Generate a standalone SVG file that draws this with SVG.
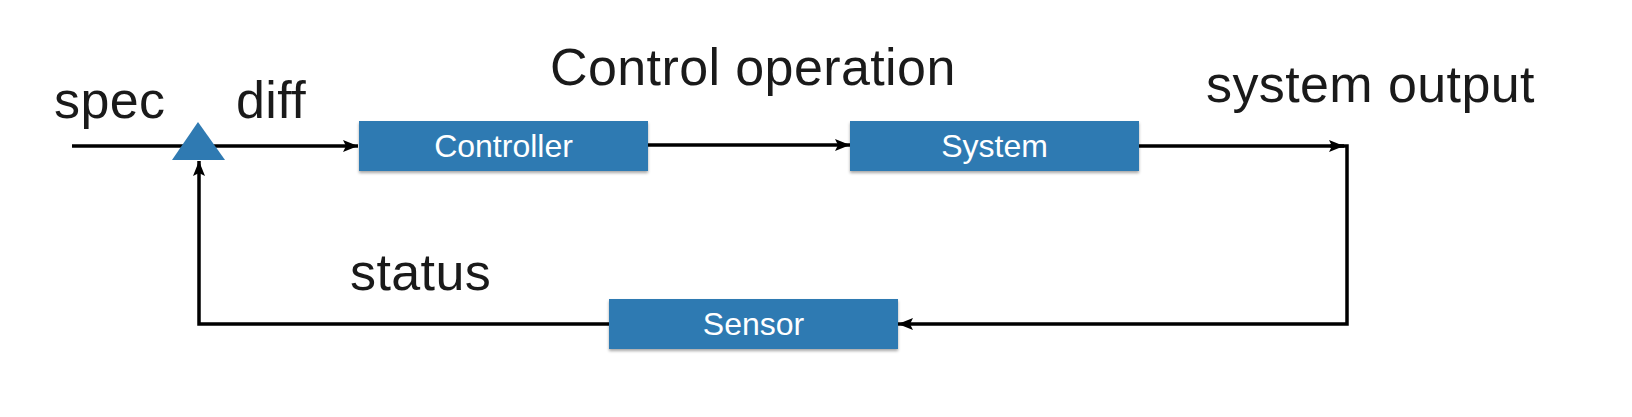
<svg xmlns="http://www.w3.org/2000/svg" width="1632" height="417" viewBox="0 0 1632 417">
<defs>
<marker id="arr" viewBox="0 0 15 12" refX="15" refY="6" markerWidth="15" markerHeight="12" markerUnits="userSpaceOnUse" orient="auto">
<path d="M0,0 L15,6 L0,12 L3,6 Z" fill="#000"/>
</marker>
<filter id="sh" x="-5%" y="-20%" width="110%" height="150%">
<feDropShadow dx="0" dy="2" stdDeviation="1.5" flood-color="#000" flood-opacity="0.35"/>
</filter>
</defs>
<style>
.lbl{font-family:"Liberation Sans",Arial,sans-serif;font-size:52px;letter-spacing:0.4px;fill:#1a1a1a}
.box{fill:#2f7ab2;filter:url(#sh)}
.bt{font-family:"Liberation Sans",Arial,sans-serif;font-size:32px;fill:#fff;text-anchor:middle}
.ln{fill:none;stroke:#000;stroke-width:3.5}
</style>
<rect width="1632" height="417" fill="#fff"/>
<g id="connectors">
<path class="ln" d="M72,146 L358,146" marker-end="url(#arr)"/>
<path class="ln" d="M648,145 L850,145" marker-end="url(#arr)"/>
<path class="ln" d="M1139,146 L1344,146" marker-end="url(#arr)"/>
<path class="ln" d="M1330,146 L1347,146 L1347,324 L898,324" marker-end="url(#arr)"/>
<path class="ln" d="M609,324 L199,324 L199,161" marker-end="url(#arr)"/>
</g>
<g id="comparator">
<polygon points="198,122 225,160 172,160" fill="#2f7ab2"/>
</g>
<g id="controller">
<rect class="box" x="359" y="121" width="289" height="50"/>
<text class="bt" x="503.5" y="157">Controller</text>
</g>
<g id="system">
<rect class="box" x="850" y="121" width="289" height="50"/>
<text class="bt" x="994.5" y="157">System</text>
</g>
<g id="sensor">
<rect class="box" x="609" y="299" width="289" height="50"/>
<text class="bt" x="753.5" y="335">Sensor</text>
</g>
<g id="labels">
<text class="lbl" x="54" y="118">spec</text>
<text class="lbl" x="236" y="118">diff</text>
<text class="lbl" x="550" y="85">Control operation</text>
<text class="lbl" x="1206" y="102">system output</text>
<text class="lbl" x="350" y="290">status</text>
</g>
</svg>
